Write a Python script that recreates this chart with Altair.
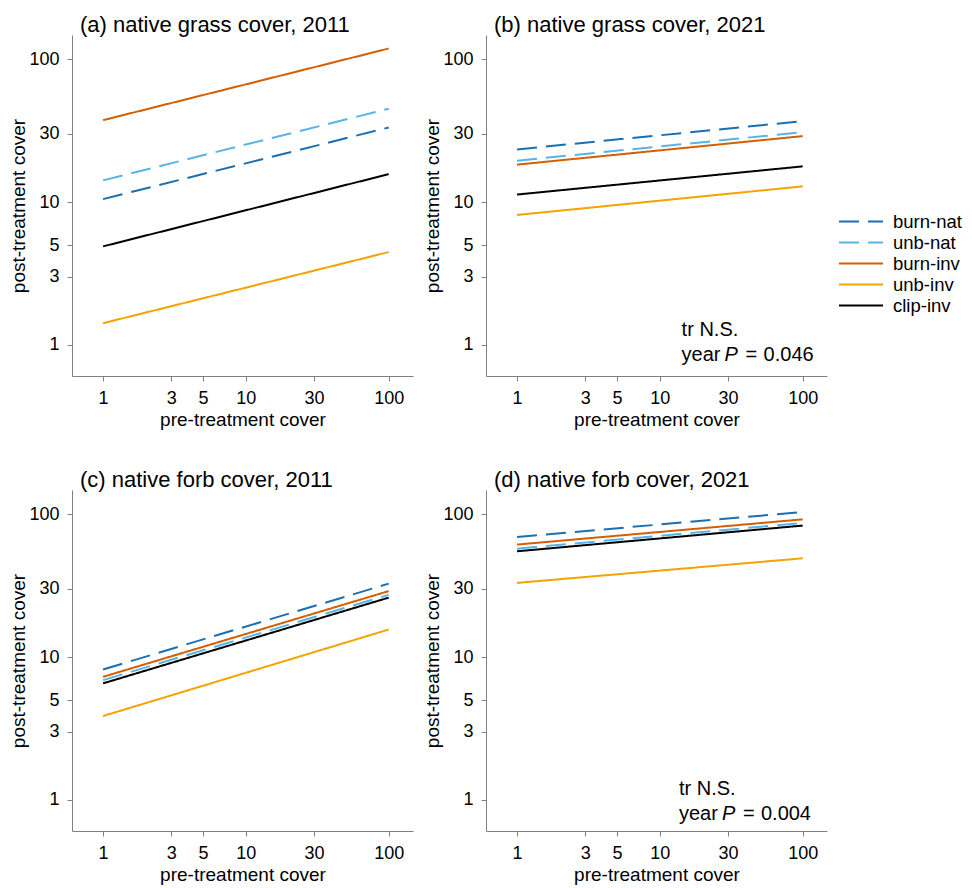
import altair as alt
import pandas as pd

FONT = "Liberation Sans"

treatments = ["burn-nat", "unb-nat", "burn-inv", "unb-inv", "clip-inv"]
colors = ["#1a6fb0", "#56b4e9", "#d55e00", "#f5a300", "#000000"]
dashes = [[20, 9], [20, 9], [1, 0], [1, 0], [1, 0]]

pre_cover = [1, 100]
tick_values = [1, 3, 5, 10, 30, 100]

# post-treatment cover at pre-treatment cover = 1 and = 100, per treatment
a_start = [10.5, 14.2, 37.5, 1.42, 4.9]
a_end = [33.3, 45.1, 119.0, 4.47, 15.7]
b_start = [23.4, 19.5, 18.3, 8.13, 11.3]
b_end = [36.9, 30.9, 29.0, 12.9, 17.8]
c_start = [8.2, 6.9, 7.28, 3.87, 6.55]
c_end = [32.7, 27.3, 29.0, 15.6, 26.1]
d_start = [69.4, 57.5, 61.4, 33.1, 55.1]
d_end = [103.8, 87.0, 92.2, 49.2, 83.4]

panel_titles = [
    "(a) native grass cover, 2011",
    "(b) native grass cover, 2021",
    "(c) native forb cover, 2011",
    "(d) native forb cover, 2021",
]

note_top = "tr N.S."
note_year = "year"
note_p = "P"
note_eq = "="
note_b_value = "0.046"
note_d_value = "0.004"
# note anchor positions (data coordinates): x, y of first line, y of second line
note_b_pos = [14.2, 1.15, 0.77]
note_d_pos = [13.6, 1.08, 0.725]

DOMAIN = [0.606, 148]
W = 341
H = 341


def xenc():
    return alt.X(
        "pre:Q",
        scale=alt.Scale(type="log", domain=DOMAIN, nice=False, zero=False),
        axis=alt.Axis(values=tick_values, format="d", title="pre-treatment cover"),
    )


def yenc():
    return alt.Y(
        "post:Q",
        scale=alt.Scale(type="log", domain=DOMAIN, nice=False, zero=False),
        axis=alt.Axis(values=tick_values, format="d", title="post-treatment cover"),
    )


def panel(start, end, title, show_legend=False, note_value=None, note_pos=None):
    rows = []
    for t, s, e in zip(treatments, start, end):
        rows.append({"treatment": t, "pre": pre_cover[0], "post": s})
        rows.append({"treatment": t, "pre": pre_cover[1], "post": e})
    df = pd.DataFrame(rows)
    if show_legend:
        legend = alt.Legend(
            title=None,
            orient="none",
            legendX=352,
            legendY=176,
            symbolType="stroke",
            symbolSize=1936,
            symbolStrokeWidth=2,
            clipHeight=21,
            rowPadding=0,
            padding=0,
            labelFont=FONT,
            labelFontSize=18.5,
            labelColor="black",
            labelOffset=9,
        )
    else:
        legend = None
    lines = alt.Chart(df).mark_line(strokeWidth=2).encode(
        x=xenc(),
        y=yenc(),
        color=alt.Color("treatment:N", scale=alt.Scale(domain=treatments, range=colors), legend=legend),
        strokeDash=alt.StrokeDash("treatment:N", scale=alt.Scale(domain=treatments, range=dashes), legend=legend),
    )
    layers = [lines]
    if note_value is not None:
        nx, ny1, ny2 = note_pos
        base = dict(font=FONT, fontSize=20, align="left", baseline="alphabetic", color="black")
        pieces = [
            (note_top, ny1, 0, "normal"),
            (note_year, ny2, 0, "normal"),
            (note_p, ny2, 43, "italic"),
            (note_eq, ny2, 64, "normal"),
            (note_value, ny2, 82, "normal"),
        ]
        for label, ny, dx, style in pieces:
            layers.append(
                alt.Chart(pd.DataFrame({"pre": [nx], "post": [ny], "label": [label]}))
                .mark_text(dx=dx, fontStyle=style, **base)
                .encode(x=xenc(), y=yenc(), text="label:N")
            )
    return alt.layer(*layers).properties(width=W, height=H, title=title)


pa = panel(a_start, a_end, panel_titles[0])
pb = panel(b_start, b_end, panel_titles[1], show_legend=True, note_value=note_b_value, note_pos=note_b_pos)
pc = panel(c_start, c_end, panel_titles[2])
pd_ = panel(d_start, d_end, panel_titles[3], note_value=note_d_value, note_pos=note_d_pos)

chart = (
    alt.concat(pa, pb, pc, pd_, columns=2, spacing=alt.RowColnumber(row=114, column=73), bounds="flush")
    .resolve_scale(color="independent", strokeDash="independent")
    .resolve_legend(color="independent", strokeDash="independent")
    .properties(
        autosize=alt.AutoSizeParams(type="none"),
        padding={"left": 64, "top": 27, "right": 892, "bottom": 853},
    )
    .configure_view(stroke=None)
    .configure_axis(
        domainColor="#808080",
        tickColor="#808080",
        tickSize=5,
        grid=False,
        labelFont=FONT,
        titleFont=FONT,
        labelFontSize=18,
        titleFontSize=19,
        labelColor="black",
        titleColor="black",
        titleFontWeight="normal",
        labelPadding=8,
        labelFlush=False,
        labelOverlap=False,
    )
    .configure_axisX(titlePadding=3)
    .configure_axisY(titlePadding=0)
    .configure_title(font=FONT, fontSize=22, fontWeight="normal", anchor="start", frame="group", dx=8,
                     offset=-2, baseline="alphabetic", color="black")
)

chart.save("out.html", embed_options={"renderer": "svg", "actions": False})
